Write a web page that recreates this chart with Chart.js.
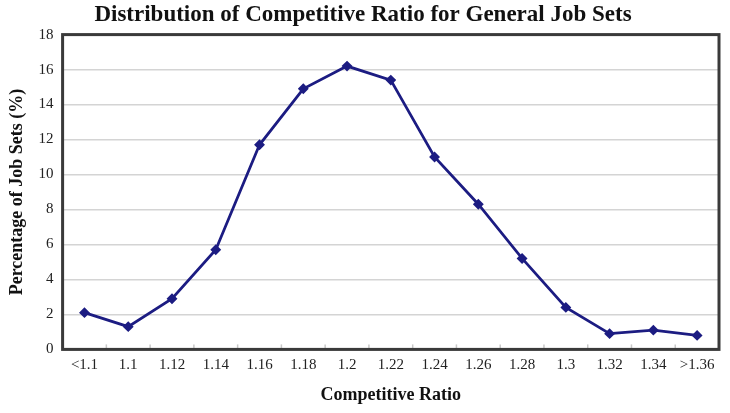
<!DOCTYPE html>
<html>
<head>
<meta charset="utf-8">
<script src="https://cdn.jsdelivr.net/npm/chart.js@4/dist/chart.umd.min.js"></script>
<style>
  html, body { margin: 0; padding: 0; background: #fff; }
  #wrap { width: 730px; height: 413px; position: relative; }
</style>
</head>
<body>
<div id="wrap"><canvas id="ratioChart"></canvas></div>
<script>
const ratioLabels = ['<1.1', '1.1', '1.12', '1.14', '1.16', '1.18', '1.2', '1.22', '1.24', '1.26', '1.28', '1.3', '1.32', '1.34', '>1.36'];
const jobSetPercent = [2.1, 1.3, 2.9, 5.7, 11.7, 14.9, 16.2, 15.4, 11.0, 8.3, 5.2, 2.4, 0.9, 1.1, 0.8];
const yTicks = [0, 2, 4, 6, 8, 10, 12, 14, 16, 18];

// frame around the plot area + small inward tick marks between categories
const frameBox = {
    id: 'frameBox',
    afterDraw(chart) {
        const a = chart.chartArea;
        const c = chart.ctx;
        const xs = chart.scales.x;
        const n = ratioLabels.length;
        c.save();
        c.strokeStyle = '#c8c8c8';
        c.lineWidth = 1.5;
        for (let i = 1; i < n; i++) {
            const px = xs.left + i * (xs.width / n);
            c.beginPath();
            c.moveTo(px, a.bottom);
            c.lineTo(px, a.bottom - 5);
            c.stroke();
        }
        c.strokeStyle = '#3a3a3a';
        c.lineWidth = 3;
        c.strokeRect(a.left, a.top, a.right - a.left, a.bottom - a.top);
        c.restore();
    }
};

const ctx = document.getElementById('ratioChart').getContext('2d');
new Chart(ctx, {
    type: 'line',
    data: {
        labels: ratioLabels,
        datasets: [{
            label: 'Percentage of Job Sets',
            data: jobSetPercent,
            borderColor: '#1c1c82',
            backgroundColor: '#1c1c82',
            borderWidth: 2.75,
            tension: 0,
            pointStyle: 'rectRot',
            pointRadius: 3.5,
            pointBackgroundColor: '#1c1c82',
            pointBorderColor: '#1c1c82'
        }]
    },
    options: {
        responsive: true,
        maintainAspectRatio: false,
        animation: false,
        layout: { padding: { left: 7, right: 11, top: 0, bottom: 7 } },
        scales: {
            y: {
                min: 0,
                max: 18,
                afterBuildTicks: axis => { axis.ticks = yTicks.map(v => ({ value: v })); },
                grid: { color: '#d4d4d4', lineWidth: 1.5, drawTicks: false },
                border: { display: false },
                ticks: {
                    padding: 9,
                    color: '#222',
                    font: { family: 'Liberation Serif', size: 15 }
                },
                title: {
                    display: true,
                    text: 'Percentage of Job Sets (%)',
                    color: '#111',
                    font: { family: 'Liberation Serif', size: 18, weight: 'bold' },
                    padding: { top: 0, bottom: 1 }
                }
            },
            x: {
                offset: true,
                grid: { offset: true, display: false, drawTicks: false },
                border: { display: false },
                ticks: {
                    padding: 7,
                    color: '#222',
                    maxRotation: 0,
                    autoSkip: false,
                    font: { family: 'Liberation Serif', size: 15 }
                },
                title: {
                    display: true,
                    text: 'Competitive Ratio',
                    color: '#111',
                    font: { family: 'Liberation Serif', size: 18, weight: 'bold' },
                    padding: { top: 3, bottom: 0 }
                }
            }
        },
        plugins: {
            legend: { display: false },
            tooltip: { enabled: false },
            title: {
                display: true,
                text: 'Distribution of Competitive Ratio for General Job Sets',
                color: '#111',
                font: { family: 'Liberation Serif', size: 23, weight: 'bold' },
                padding: { top: 1, bottom: 6 }
            }
        }
    },
    plugins: [frameBox]
});
</script>
</body>
</html>
